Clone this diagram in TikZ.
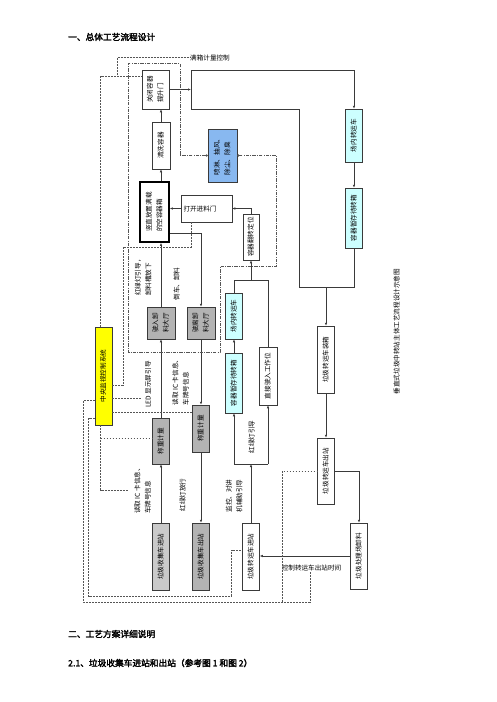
\documentclass[tikz,border=0pt]{standalone}
\usepackage{fontspec}
\usepackage{graphicx}
\setmainfont{Noto Sans CJK SC}[AutoFakeBold=2.5]
\usetikzlibrary{arrows.meta}
\definecolor{lc}{HTML}{3A3A3A}
\definecolor{dc}{HTML}{555555}
\definecolor{bluef}{HTML}{88B8F0}
\definecolor{cyanf}{HTML}{CCFFFF}
\definecolor{grayA}{HTML}{B3B3B3}
\definecolor{grayL}{HTML}{CACACA}
\definecolor{yelf}{HTML}{FFFF00}
\newcommand\dgfont{\fontsize{6.6}{10.5}\selectfont}
\newcommand\hdfont{\fontsize{8.7}{11}\selectfont}
\newcommand\rtxt[1]{\rotatebox{90}{\begin{tabular}{@{}l@{}}#1\end{tabular}}}
\tikzset{
  bx/.style={draw=lc, line width=0.5pt, inner sep=0pt, font=\dgfont},
  lbl/.style={inner sep=0pt, font=\dgfont},
  flow/.style={draw=lc, line width=0.55pt},
  arr/.style={flow, -{Latex[length=3pt,width=2.4pt]}},
  ctl/.style={draw=dc, line width=0.5pt, dash pattern=on 1.8pt off 1.2pt},
  deo/.style={draw=dc, line width=0.5pt, dash pattern=on 3.5pt off 1.2pt on 0.8pt off 1.2pt},
  dotl/.style={draw=dc, line width=0.5pt, dash pattern=on 0.6pt off 0.9pt},
  hd/.style={anchor=west, inner sep=0pt, font=\hdfont\bfseries},
}
\begin{document}
\begin{tikzpicture}[x=1pt, y=-1pt]
\fill[white] (0,0) rectangle (496,702);
\useasboundingbox (0,0) rectangle (496,702);

% headings
\node[hd] (h1) at (68,37) {一、总体工艺流程设计};
\node[hd] (h2) at (68,634) {二、工艺方案详细说明};
\node[hd] (h3) at (68,663) {2.1、垃圾收集车进站和出站（参考图 1 和图 2）};

% boxes
\node[bx, minimum width=27pt, minimum height=39pt] (gbkm) at (155.5,89.5) {\rtxt{关闭容器\\提升门}};
\node[bx, minimum width=18pt, minimum height=47pt] (qxrq) at (161,145.5) {\rtxt{清洗容器}};
\node[bx, draw=black, line width=1.6pt, minimum width=29pt, minimum height=60pt] (szfz) at (154.5,212) {\rtxt{竖直放置满载\\的空容器箱}};
\node[bx, minimum width=51pt, minimum height=27pt, text width=46pt, align=left] (dkjl) at (206.5,208.5) {打开进料门};
\node[bx, minimum width=16pt, minimum height=46pt] (rqfz) at (251,237) {\rtxt{容器翻转定位}};
\node[bx, fill=bluef, minimum width=29pt, minimum height=53pt] (blue) at (222.5,155.5) {\rtxt{喷淋、抽风、\\除尘、除臭}};
\node[bx, fill=yelf, minimum width=17pt, minimum height=98pt] (yel) at (103.5,376) {\rtxt{中央监视控制系统}};
\node[bx, fill=grayA, minimum width=28pt, minimum height=32pt] (syxl) at (161,323) {\rtxt{驶入卸\\料大厅}};
\node[bx, fill=grayA, minimum width=28pt, minimum height=32pt] (slxl) at (201,323) {\rtxt{驶离卸\\料大厅}};
\node[bx, fill=grayA, minimum width=17pt, minimum height=46pt] (czl) at (161,441) {\rtxt{称重计量}};
\node[bx, fill=grayA, minimum width=17pt, minimum height=47pt] (czr) at (201,428.5) {\rtxt{称重计量}};
\node[bx, fill=grayL, minimum width=17pt, minimum height=67pt] (jz) at (161,556.5) {\rtxt{垃圾收集车进站}};
\node[bx, fill=grayA, minimum width=17pt, minimum height=67pt] (cz) at (201,556.5) {\rtxt{垃圾收集车出站}};
\node[bx, minimum width=17pt, minimum height=67pt] (zyjz) at (251,556.5) {\rtxt{垃圾转运车进站}};
\node[bx, fill=cyanf, minimum width=17pt, minimum height=60pt] (rqzc) at (234,383) {\rtxt{容器暂存待转箱}};
\node[bx, fill=cyanf, minimum width=17pt, minimum height=46pt] (cnzy) at (234,316) {\rtxt{场内转运车}};
\node[bx, minimum width=18pt, minimum height=58pt] (zjsr) at (268,376) {\rtxt{直接驶入工作位}};
\node[bx, fill=cyanf, minimum width=17pt, minimum height=53pt] (cnzy2) at (354,135.5) {\rtxt{场内转运车}};
\node[bx, fill=cyanf, minimum width=17pt, minimum height=60pt] (rqzc2) at (354,218) {\rtxt{容器暂存待转箱}};
\node[bx, minimum width=17pt, minimum height=67pt] (zxzx) at (326,359.5) {\rtxt{垃圾转运车装箱}};
\node[bx, minimum width=17pt, minimum height=66pt] (zycz) at (326,471) {\rtxt{垃圾转运车出站}};
\node[bx, minimum width=17pt, minimum height=66pt] (clcx) at (359,556) {\rtxt{垃圾处理场卸料}};

% labels
\node[lbl] (l1) at (143.5,276) {\rtxt{红绿灯引导，\\卸料槽放下}};
\node[lbl] (l2) at (177,284) {\rtxt{倒车、卸料}};
\node[lbl] (l3) at (148.5,384.5) {\rtxt{LED 显示屏引导}};
\node[lbl] (l4) at (181,381) {\rtxt{读取 IC 卡信息、\\车牌号信息}};
\node[lbl] (l5) at (143,489.5) {\rtxt{读取 IC 卡信息、\\车牌号信息}};
\node[lbl] (l6) at (183,495) {\rtxt{红绿灯放行}};
\node[lbl] (l7) at (234.5,496) {\rtxt{监控、对讲\\机辅助引导}};
\node[lbl] (l8) at (252,437) {\rtxt{红绿灯引导}};
\node[lbl] (cap) at (397,331.5) {\rtxt{垂直式垃圾中转站主体工艺流程设计示意图}};
\node[lbl, anchor=west] (toplab) at (190,57.7) {满箱计量控制};
\node[lbl] (botlab) at (311.5,568) {控制转运车出站时间};

% solid flow: collection trucks
\draw[arr] (jz.north) -- (czl.south);
\draw[arr] (czl.north) -- (syxl.south);
\draw[arr] (syxl.north) -- (syxl.north |- szfz.south);
\draw[arr] (szfz.north -| qxrq.south) -- (qxrq.south);
\draw[arr] (qxrq.north) -- (qxrq.north |- gbkm.south);
\coordinate (j1) at (201,233);
\draw[arr] (szfz.east |- j1) -| (slxl.north);
\draw[arr] (slxl.south) -- (czr.north);
\draw[arr] (czr.south) -- (cz.north);

% container handling
\draw[arr] (rqfz.north) |- (dkjl.east);
\draw[arr] (dkjl.west) -- (dkjl.west -| szfz.east);
\coordinate (tA) at (191,70);
\coordinate (tB) at (191,109.5);
\coordinate (tC) at (299,287);
\draw[arr] (gbkm.east) -- (gbkm.east -| tA);
\draw[flow] (tA) -- (tB);
\draw[arr] (tA) -| (cnzy2.north);
\draw[arr] (cnzy2.south) -- (rqzc2.north);
\draw[flow] (tB) -| (tC) -- (tC -| rqzc2.south) -- (rqzc2.south);
\draw[arr] (zxzx.north |- tC) -- (zxzx.north);
\draw[arr] (zxzx.south) -- (zycz.north);
\draw[arr] (zycz.east) -| (clcx.north);
\draw[arr] (clcx.west) -- (clcx.west -| zyjz.east);
\coordinate (m1) at (234,464);
\coordinate (m2) at (268,464);
\draw[flow] (m1) -- (m2);
\draw[arr] (zyjz.north) -- (zyjz.north |- m1);
\draw[arr] (m1) -- (rqzc.south);
\draw[arr] (m2) -- (zjsr.south);
\draw[arr] (rqzc.north) -- (cnzy.south);
\coordinate (n1) at (234,280);
\coordinate (n2) at (268,280);
\draw[flow] (cnzy.north) -- (n1) -- (n2) -- (zjsr.north);
\draw[arr] (rqfz.south |- n1) -- (rqfz.south);

% control lines (dashed)
\coordinate (k1) at (100.5,76.5);
\draw[ctl] (yel.north -| k1) -- (k1) -- (k1 -| gbkm.west);
\coordinate (k2) at (117,76.5);
\draw[dotl] (k2) |- (toplab.west);
\coordinate (c1) at (123,385);
\coordinate (c2) at (123,247);
\coordinate (c3) at (191.5,247);
\draw[ctl] (yel.east |- c1) -- (c1) -- (c2) -- (c3) -- (c3 |- dkjl.south);
\coordinate (c4) at (141,398);
\draw[ctl] (yel.east |- c4) -- (c4);
\coordinate (c5) at (150,412.7);
\draw[ctl] (yel.east |- c5) -- (czr.west |- c5);
\coordinate (c6) at (100.5,490);
\coordinate (c7) at (128,490);
\coordinate (c8) at (100.5,438);
\draw[ctl] (yel.south -| c6) -- (c6) -- (c7);
\draw[ctl] (c8) -- (c8 -| czl.west);
\coordinate (e1) at (83.5,400);
\coordinate (e2) at (83.5,602);
\coordinate (e3) at (282.5,602);
\coordinate (e4) at (282.5,471);
\coordinate (e5) at (310,602);
\draw[ctl] (yel.west |- e1) -- (e1) -- (e2) -- (e5) -- (e5 |- botlab.south);
\draw[ctl] (e3) -- (e4) -- (e4 -| zycz.west);
\coordinate (f1) at (88.5,418);
\coordinate (f2) at (88.5,596);
\coordinate (f3) at (231.5,596);
\coordinate (f4) at (231.5,550);
\draw[ctl] (yel.west |- f1) -- (f1) -- (f2) -- (f3) -- (f4) -- (f4 -| zyjz.west);

% deodorisation loop (dash-dot)
\coordinate (g1) at (180,155.5);
\coordinate (g2) at (180,63.5);
\coordinate (g3) at (128.5,63.5);
\coordinate (g4) at (128.5,352.5);
\coordinate (g5) at (220,352.5);
\coordinate (g6) at (220,266.5);
\coordinate (g7) at (276.5,266.5);
\coordinate (g8) at (276.5,155.5);
\draw[deo, {Circle[length=2.2pt]}-{Circle[length=2.2pt]}] (blue.west) -- (g1) -- (g2) -- (g3) -- (g4) -- (g5) -- (g6) -- (g7) -- (g8) -- (blue.east);
\end{tikzpicture}
\end{document}
